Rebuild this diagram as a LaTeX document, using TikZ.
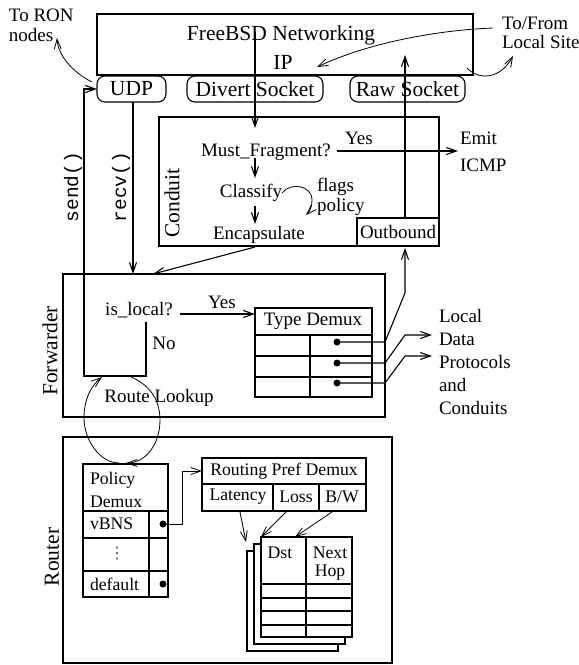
\documentclass[tikz,border=0pt]{standalone}
\usepackage{fontspec}
\setmainfont{Liberation Serif}
\setmonofont{Liberation Mono}
\newfontfamily\dejavu{DejaVu Sans}
\usetikzlibrary{arrows.meta,calc}
\begin{document}
\begin{tikzpicture}[x=1pt,y=-1pt, line width=1.1pt,
  font=\fontsize{19}{22}\selectfont,
  arr/.style={-{Straight Barb[length=10pt,width=7pt]}},
  box/.style={draw, inner sep=0pt, outer sep=0pt, anchor=north west},
  sock/.style={box, rounded corners=8pt, minimum height=26pt, font=\fontsize{21.5}{24}\selectfont},
  lbl/.style={inner sep=0pt, outer sep=0pt},
  lblw/.style={lbl, anchor=west},
  side/.style={lbl, rotate=90, font=\fontsize{21.5}{24}\selectfont},
  small/.style={font=\fontsize{17.7}{20}\selectfont},
  ttl/.style={lbl, rotate=90, font=\fontsize{19.5}{22}\ttfamily},
  dot/.style={circle, fill, inner sep=0pt, minimum size=7pt},
  thin/.style={line width=0.8pt},
  page/.style={box, fill=white, minimum width=91pt, minimum height=100pt}]
\useasboundingbox (0,0) rectangle (579,665);

% ---------------- FreeBSD networking ----------------
\node[box, minimum width=376pt, minimum height=61pt] (fbsd) at (97,14) {};
\node[lbl, font=\fontsize{21.5}{24}\selectfont] (fbsdtxt) at (281,35) {FreeBSD Networking};
\node[lbl, font=\fontsize{21.5}{24}\selectfont] (ip) at (283,62) {IP};
\node[sock, minimum width=69pt] (udp) at (97,76) {UDP};
\node[sock, minimum width=136pt] (divert) at (187,76) {Divert Socket};
\node[sock, minimum width=115pt] (raw) at (350,76) {Raw Socket};

\node[lblw] (toron) at (9,15) {To RON};
\node[lblw] (nodes) at (9,35) {nodes};
\node[lblw] (tofrom) at (502,23) {To/From};
\node[lblw] (localsite) at (502,42) {Local Site};

\coordinate (ronstart) at (92,82);
\coordinate (rontip) at (57,38);
\draw[arr, thin] (ronstart) .. controls (72,72) and (58,55) .. (rontip);
\coordinate (lsstart) at (493,28);
\coordinate (lstip) at (317,67);
\draw[arr, thin] (lsstart) .. controls (440,30) and (370,42) .. (lstip);
\coordinate (lsout) at (467,68);
\coordinate (lsouttip) at (513,56);
\draw[arr, thin] (lsout) .. controls (478,80) and (500,80) .. (lsouttip);

% ---------------- Conduit ----------------
\node[box, minimum width=280pt, minimum height=129pt] (conduit) at (159,117) {};
\node[side] (conduitlbl) at (172,203) {Conduit};
\node[lbl] (mf) at (266,152) {Must\_Fragment?};
\node[lbl] (classify) at (251,193) {Classify};
\node[lbl] (encap) at (259,235) {Encapsulate};
\node[lblw] (flags) at (317,187) {flags};
\node[lblw] (policy) at (317,207) {policy};
\node[box, minimum width=82pt, minimum height=28pt] (outbound) at (357,218) {Outbound};
\node[lbl] (yes1) at (359,138) {Yes};
\node[lblw] (emit) at (460,138) {Emit};
\node[lblw] (icmp) at (460,165) {ICMP};

\coordinate (ipdown) at (255,32);
\coordinate (mfin) at (255,128);
\draw[arr] (ipdown) -- (mfin);
\coordinate (mfout) at (255,158);
\coordinate (clin) at (255,178);
\draw[arr] (mfout) -- (clin);
\coordinate (clout) at (255,206);
\coordinate (enin) at (255,224);
\draw[arr] (clout) -- (enin);
\coordinate (yesstart) at (337,151);
\coordinate (yestip) at (458,151);
\draw[arr] (yesstart) -- (yestip);
\coordinate (looptip) at (306,215);
\draw[arr, thin] (classify.east) .. controls (290,182) and (312,185) .. (312,200) .. controls (312,207) and (310,211) .. (looptip);
\coordinate (obup) at (405,218);
\coordinate (iptip) at (405,55);
\draw[arr] (obup) -- (iptip);

% ---------------- Forwarder ----------------
\node[box, minimum width=322pt, minimum height=143pt] (fwd) at (63,274) {};
\node[side] (fwdlbl) at (50,351) {Forwarder};
\node[lbl] (islocal) at (139,310) {is\_local?};
\node[lbl] (yes2) at (222,302) {Yes};
\node[lbl] (no) at (164,343) {No};
\node[lbl] (rlookup) at (159,398) {Route Lookup};

\node[box, minimum width=117pt, minimum height=89pt] (tdemux) at (255,308) {};
\node[lbl] (tdtxt) at (313,321) {Type Demux};
\draw (255,335) -- (372,335) (255,356) -- (372,356) (255,377) -- (372,377) (310,335) -- (310,397);
\node[dot] (d1) at (337,342) {};
\node[dot] (d2) at (337,363) {};
\node[dot] (d3) at (337,383) {};

\node[lblw] (ldp1) at (439,316) {Local};
\node[lblw] (ldp2) at (439,339) {Data};
\node[lblw] (ldp3) at (439,362) {Protocols};
\node[lblw] (ldp4) at (439,385) {and};
\node[lblw] (ldp5) at (439,408) {Conduits};

\coordinate (obtip) at (405,248);
\draw[arr] (d1.center) -- (385,342) -- (405,293) -- (obtip);
\coordinate (t2) at (432,335);
\draw[arr] (d2.center) -- (385,363) -- (405,335) -- (t2);
\coordinate (t3) at (432,356);
\draw[arr] (d3.center) -- (385,383) -- (405,356) -- (t3);

\coordinate (yes2start) at (180,314);
\draw[arr] (yes2start) -- (tdemux.west |- yes2start);

\coordinate (encfrom) at (255,247);
\coordinate (enctip) at (153,274);
\draw[arr] (encfrom) -- (enctip);

\coordinate (recvtop) at (133,102);
\coordinate (recvtip) at (133,274);
\draw[arr] (recvtop) -- (recvtip);
\node[ttl] (recvlbl) at (121,187) {recv()};

\coordinate (nostart) at (146,322);
\draw[arr] (nostart) -- (146,376) -- (84,376) -- (84,89) -- (udp.west);
\node[ttl] (sendlbl) at (73,187) {send()};

% ---------------- Router ----------------
\node[box, minimum width=329pt, minimum height=226pt] (router) at (63,437) {};
\node[side] (routerlbl) at (52,557) {Router};

\node[box, minimum width=85pt, minimum height=133pt] (pdemux) at (83,464) {};
\draw (83,511) -- (168,511) (83,538) -- (168,538) (83,571) -- (168,571) (149,511) -- (149,597);
\node[lblw, small] (pol) at (90,480) {Policy};
\node[lblw, small] (pdm) at (90,502) {Demux};
\node[lblw, small] (vbns) at (90,524) {vBNS};
\node[lbl, font=\fontsize{16}{18}\dejavu, color=black!70] (vdots) at (117,554) {⋮};
\node[lblw, small] (default) at (90,584) {default};
\node[dot] (dv) at (163,524) {};
\node[dot] (dd) at (163,584) {};

\node[box, minimum width=164pt, minimum height=53pt] (rpd) at (202,458) {};
\draw (202,484) -- (366,484) (273,484) -- (273,511) (319,484) -- (319,511);
\node[lbl, small] (rpdtxt) at (284,471) {Routing Pref Demux};
\node[lbl, small] (lat) at (238,497) {Latency};
\node[lbl, small] (loss) at (296,497) {Loss};
\node[lbl, small] (bw) at (342,497) {B/W};

\draw[arr, thin] (dv.center) -- (182,524) -- (182,471) -- (rpd.west |- 182,471);

\node[page] (pg3) at (247,551) {};
\node[page] (pg2) at (254,544) {};
\node[page] (pg1) at (261,537) {};
\draw (306,537) -- (306,637) (261,584) -- (352,584) (261,598) -- (352,598) (261,611) -- (352,611) (261,625) -- (352,625);
\node[lbl, small] (dst) at (280,553) {Dst};
\node[lbl, small] (next) at (330,553) {Next};
\node[lbl, small] (hop) at (330,573) {Hop};

\coordinate (latfrom) at (240,512);
\coordinate (lattip) at (246,542);
\draw[arr, thin] (latfrom) -- (lattip);
\coordinate (lossfrom) at (286,512);
\draw[arr, thin] (lossfrom) -- (pg1.north west);
\coordinate (bwfrom) at (332,512);
\coordinate (bwtip) at (295,537);
\draw[arr, thin] (bwfrom) -- (bwtip);

% ---------------- Route lookup loop ----------------
\coordinate (rl1) at (131,377);
\coordinate (rl2) at (126,463);
\draw[arr, thin] (rl1) .. controls (150,385) and (160,400) .. (160,420) .. controls (160,445) and (145,463) .. (rl2);
\coordinate (rl3) at (119,463);
\coordinate (rl4) at (102,377);
\draw[arr, thin] (rl3) .. controls (100,463) and (84,440) .. (84,418) .. controls (84,398) and (92,385) .. (rl4);
\end{tikzpicture}
\end{document}
